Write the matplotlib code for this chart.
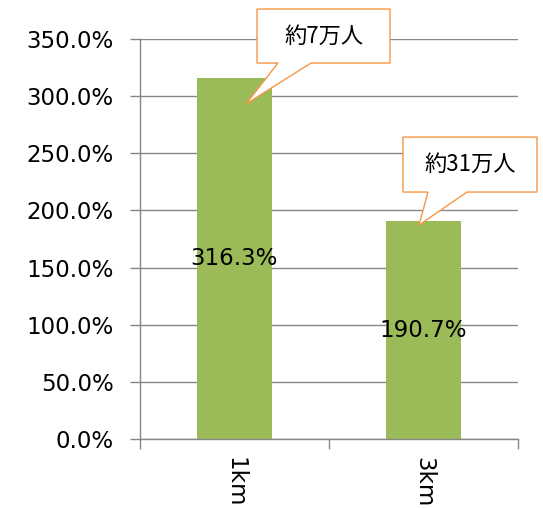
import matplotlib
matplotlib.use('Agg')
import matplotlib.pyplot as plt
from matplotlib.patches import Polygon
from matplotlib.transforms import IdentityTransform
from matplotlib.ticker import FixedLocator, FuncFormatter

categories = ['1km', '3km']
values = [316.3, 190.7]
callouts = ['約7万人', '約31万人']

BAR_COLOR = '#9BBB59'
GRID_COLOR = '#868686'
CALLOUT_EDGE = '#F79646'
W, H = 543, 508
FS = 16.5

plt.rcParams['font.family'] = ['DejaVu Sans']

fig = plt.figure(figsize=(W / 100, H / 100), dpi=100)
ax = fig.add_axes([140 / W, (H - 439) / H, (518 - 140) / W, (439 - 39) / H])

x = range(len(categories))
bars = ax.bar(x, values, width=0.4, color=BAR_COLOR, zorder=2)
ax.bar_label(bars, labels=[f'{v:.1f}%' for v in values], label_type='center',
             fontsize=FS, color='black')

ax.set_xlim(-0.5, len(categories) - 0.5)
ax.set_ylim(0, 350)
ax.yaxis.set_major_locator(FixedLocator([i * 50 for i in range(8)]))
ax.yaxis.set_major_formatter(FuncFormatter(lambda v, p: f'{v:.1f}%'))
ax.grid(axis='y', color=GRID_COLOR, linewidth=1, zorder=0)
ax.set_axisbelow(True)

# category boundaries get the tick marks, labels sit at centres
ax.xaxis.set_major_locator(FixedLocator([i - 0.5 for i in range(len(categories) + 1)]))
ax.xaxis.set_major_formatter(FuncFormatter(lambda v, p: ''))
ax.xaxis.set_minor_locator(FixedLocator(list(x)))
ax.set_xticks(list(x), categories, minor=True)
ax.tick_params(axis='x', which='major', length=7, color=GRID_COLOR, width=1)
ax.tick_params(axis='x', which='minor', length=0, pad=13, labelsize=FS, labelrotation=-90)
ax.tick_params(axis='y', length=7, color=GRID_COLOR, width=1, labelsize=FS, pad=12)
for lab in ax.get_xticklabels(minor=True):
    lab.set_va('top')

for side in ['top', 'right']:
    ax.spines[side].set_visible(False)
for side in ['left', 'bottom']:
    ax.spines[side].set_color(GRID_COLOR)
    ax.spines[side].set_linewidth(1)

# callout geometry in pixels: tip offset from bar top centre, box relative to tip
tip_off = [(11.5, -26.5), (-4.5, -4)]
boxes = [(11, 144, 41, 95, 32, 65), (-16, 118, 33, 88, 9, 48)]

for i, (text, v) in enumerate(zip(callouts, values)):
    tx, ty = ax.transData.transform((i, v))
    tx += tip_off[i][0]
    ty += tip_off[i][1]
    x0, x1, yb, yt, bl, br = boxes[i]
    verts = [(tx + x0, ty + yt), (tx + x1, ty + yt), (tx + x1, ty + yb),
             (tx + br, ty + yb), (tx, ty), (tx + bl, ty + yb), (tx + x0, ty + yb)]
    poly = Polygon(verts, closed=True, facecolor='white', edgecolor=CALLOUT_EDGE,
                   linewidth=1, transform=IdentityTransform(), zorder=5)
    fig.add_artist(poly)
    fig.text((tx + (x0 + x1) / 2) / W, (ty + (yb + yt) / 2) / H, text,
             ha='center', va='center', fontsize=16, zorder=6,
             family=['Noto Sans CJK JP', 'DejaVu Sans'])

fig.savefig('out.png', dpi=100)
